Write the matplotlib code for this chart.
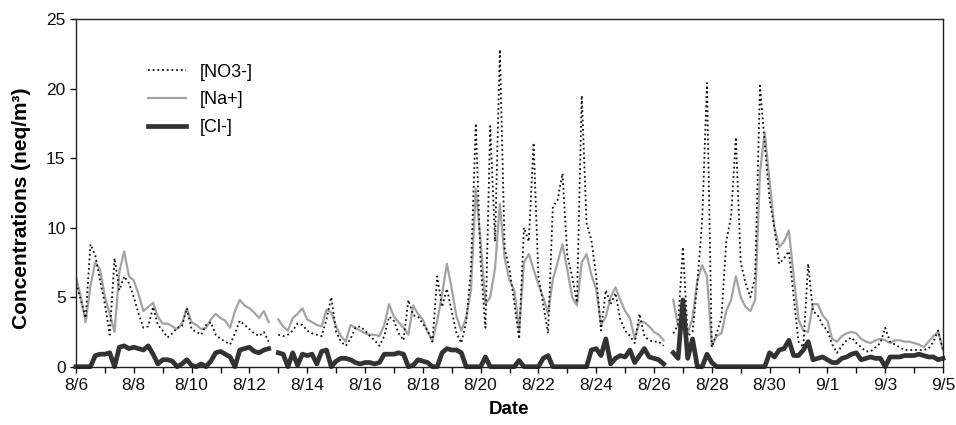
import numpy as np
import matplotlib
matplotlib.use("Agg")
import matplotlib.pyplot as plt

plt.rcParams['font.family'] = ['Liberation Sans', 'DejaVu Sans']

nan = np.nan
samples_per_day = 6  # 4-hourly readings, 8/6 00:00 .. 9/5 00:00

# [Na+] (neq/m3)
na = [
    6.5, 5.0, 3.2, 5.8, 7.5, 7.0,
    5.0, 3.8, 2.5, 6.8, 8.3, 6.5,
    6.2, 5.2, 4.0, 4.3, 4.6, 3.6,
    3.1, 3.1, 2.9, 2.7, 3.1, 4.2,
    3.2, 3.0, 2.7, 2.8, 3.4, 3.8,
    3.5, 3.3, 2.8, 4.0, 4.8, 4.4,
    4.2, 3.9, 3.5, 4.0, 3.2, nan,
    3.4, 2.9, 2.6, 3.5, 3.8, 4.2,
    3.4, 3.2, 3.0, 2.9, 4.1, 3.9,
    2.9, 2.2, 1.8, 3.0, 2.8, 2.6,
    2.4, 2.3, 2.3, 2.2, 3.0, 4.5,
    3.6, 3.2, 2.8, 2.3, 4.4, 3.8,
    3.4, 2.5, 1.9, 3.3, 5.2, 7.4,
    5.6, 3.6, 2.6, 3.5, 5.5, 12.8,
    9.0, 4.5, 5.0, 7.1, 11.7, 7.8,
    6.2, 5.5, 2.6, 7.5, 8.1, 7.0,
    5.9, 5.0, 3.8, 6.3, 7.5, 8.8,
    7.0, 5.0, 4.4, 7.5, 8.1, 6.6,
    5.6, 3.0, 3.6, 5.0, 5.7, 4.8,
    4.0, 3.5, 2.0, 3.2, 3.2, 2.9,
    2.5, 2.3, 1.9, nan, 4.8, 2.9,
    2.7, 2.4, 3.5, 6.2, 7.3, 6.5,
    1.5, 2.2, 2.4, 4.0, 4.8, 6.5,
    5.0, 4.3, 4.0, 4.8, 14.0, 16.8,
    13.3, 10.0, 8.6, 9.0, 9.8, 6.5,
    3.4, 2.6, 2.5, 4.5, 4.5, 3.7,
    3.3, 2.0, 1.8, 2.2, 2.4, 2.5,
    2.4, 2.0, 1.8, 1.7, 1.9, 2.0,
    1.9, 1.7, 1.9, 1.9, 1.8, 1.8,
    1.7, 1.6, 1.4, 1.8, 2.2, 2.5,
    1.2,
]

# [NO3-] (neq/m3)
no3 = [
    6.0, 4.8, 3.5, 8.8, 8.0, 6.2,
    4.5, 2.3, 7.8, 5.5, 6.5, 6.0,
    5.0, 3.8, 2.8, 2.9, 4.3, 3.0,
    2.6, 2.1, 2.4, 2.8, 2.9, 4.2,
    2.7, 2.5, 2.3, 3.0, 3.2, 2.3,
    2.0, 1.8, 1.6, 2.4, 3.3, 3.0,
    2.7, 2.4, 2.2, 2.5, 1.8, nan,
    2.3, 2.2, 2.3, 2.6, 3.1, 3.0,
    2.6, 2.4, 2.3, 2.2, 3.4, 5.0,
    2.5, 1.8, 1.5, 2.0, 2.8, 2.9,
    2.6, 2.2, 1.9, 1.5, 2.2, 3.6,
    3.3, 2.4, 1.9, 4.8, 3.7, 3.6,
    3.1, 2.6, 1.8, 6.5, 4.3, 5.6,
    4.0, 2.4, 1.7, 3.2, 7.0, 17.5,
    7.5, 2.8, 17.3, 9.0, 22.8, 8.5,
    7.0, 4.6, 2.0, 10.0, 9.0, 16.1,
    6.5, 4.5, 2.4, 11.5, 12.0, 13.9,
    8.0, 6.5, 4.6, 19.5, 10.3, 9.1,
    6.5, 2.6, 5.5, 4.5, 5.3, 3.4,
    2.6, 2.2, 1.7, 3.8, 2.2, 1.9,
    1.8, 1.8, 1.5, nan, 2.4, 3.0,
    8.6, 2.2, 2.5, 6.0, 10.5, 20.4,
    1.4, 2.4, 3.5, 9.0, 10.8, 16.5,
    7.5, 6.0, 5.0, 6.5, 20.2, 16.0,
    12.0, 10.0, 7.4, 7.8, 8.3, 5.0,
    1.8, 1.4, 7.4, 4.0, 3.7, 3.0,
    2.6, 1.6, 1.0, 1.5, 1.9, 2.1,
    1.7, 1.4, 1.1, 1.1, 1.4, 1.7,
    2.8, 1.8, 1.6, 1.4, 1.2, 1.2,
    1.2, 1.2, 1.2, 1.3, 1.8, 2.6,
    1.2,
]

# [Cl-] (neq/m3)
cl = [
    0.0, 0.0, 0.0, 0.0, 0.8, 0.9,
    0.9, 1.0, 0.0, 1.4, 1.5, 1.3,
    1.4, 1.3, 1.2, 1.5, 0.9, 0.2,
    0.5, 0.5, 0.4, 0.0, 0.2, 0.5,
    0.1, 0.0, 0.2, 0.0, 0.4, 1.0,
    1.1, 0.9, 0.7, 0.0, 1.2, 1.3,
    1.4, 1.1, 1.0, 1.2, 1.3, nan,
    1.0, 0.9, 0.0, 1.0, 0.1, 0.9,
    0.8, 0.9, 0.2, 1.1, 1.2, 0.0,
    0.4, 0.6, 0.6, 0.5, 0.3, 0.2,
    0.3, 0.3, 0.2, 0.3, 0.9, 0.9,
    0.9, 1.0, 0.9, 0.0, 0.1, 0.5,
    0.4, 0.3, 0.0, 0.0, 1.0, 1.3,
    1.2, 1.2, 1.0, 0.0, 0.0, 0.0,
    0.0, 0.7, 0.0, 0.0, 0.0, 0.0,
    0.0, 0.0, 0.45, 0.0, 0.0, 0.0,
    0.0, 0.6, 0.8, 0.0, 0.0, 0.0,
    0.0, 0.0, 0.0, 0.0, 0.0, 1.2,
    1.3, 0.8, 2.0, 0.2, 0.6, 0.8,
    0.7, 1.2, 0.3, 0.8, 1.3, 0.7,
    0.6, 0.5, 0.2, nan, 1.0, 0.6,
    4.8, 0.6, 2.0, 0.0, 0.0, 0.9,
    0.3, 0.0, 0.0, 0.0, 0.0, 0.0,
    0.0, 0.0, 0.0, 0.0, 0.0, 0.0,
    1.0, 0.7, 1.2, 1.3, 1.9, 0.8,
    0.8, 1.2, 1.8, 0.5, 0.6, 0.7,
    0.5, 0.3, 0.3, 0.6, 0.7, 0.9,
    1.0, 0.5, 0.6, 0.7, 0.6, 0.6,
    0.0, 0.7, 0.7, 0.7, 0.8, 0.8,
    0.8, 0.9, 0.8, 0.7, 0.7, 0.5,
    0.6,
]

date_labels = ["8/6", "8/8", "8/10", "8/12", "8/14", "8/16", "8/18", "8/20",
               "8/22", "8/24", "8/26", "8/28", "8/30", "9/1", "9/3", "9/5"]
y_ticks = [0, 5, 10, 15, 20, 25]

t = np.arange(len(na)) / samples_per_day

fig = plt.figure(figsize=(9.56, 4.25), dpi=100)
ax = fig.add_axes([76/956, 1-366.7/425, 867/956, 347.7/425])

l_na, = ax.plot(t, na, color='#a3a3a3', lw=1.6, label='[Na+]')
l_no3, = ax.plot(t, no3, color='#111111', lw=1.3, linestyle=(0, (1, 1.6)), label='[NO3-]')
l_cl, = ax.plot(t, cl, color='#333333', lw=3.4, label='[Cl-]', clip_on=False)

ax.set_xlim(0, 30)
ax.set_ylim(0, 25)
ax.set_yticks(y_ticks)
ax.set_xticks(np.arange(0, 31, 1))
ax.set_xticklabels([date_labels[i // 2] if i % 2 == 0 else '' for i in range(31)])
ax.tick_params(axis='both', direction='out', length=4, width=1, labelsize=12.5, colors='#111111')
ax.tick_params(axis='x', pad=4)
for s in ax.spines.values():
    s.set_linewidth(1.0)
    s.set_color('#222222')

ax.set_ylabel('Concentrations (neq/m³)', fontsize=15, fontweight='bold')
ax.yaxis.set_label_coords(-0.052, 0.455)
ax.set_xlabel('Date', fontsize=13.5, fontweight='bold', labelpad=6)

leg = ax.legend(handles=[l_no3, l_na, l_cl], loc='upper left',
                bbox_to_anchor=(0.083, 0.872), frameon=False, fontsize=13,
                handlelength=2.1, handletextpad=0.75, labelspacing=0.6,
                borderpad=0, borderaxespad=0)

fig.savefig('out.png', dpi=100)
